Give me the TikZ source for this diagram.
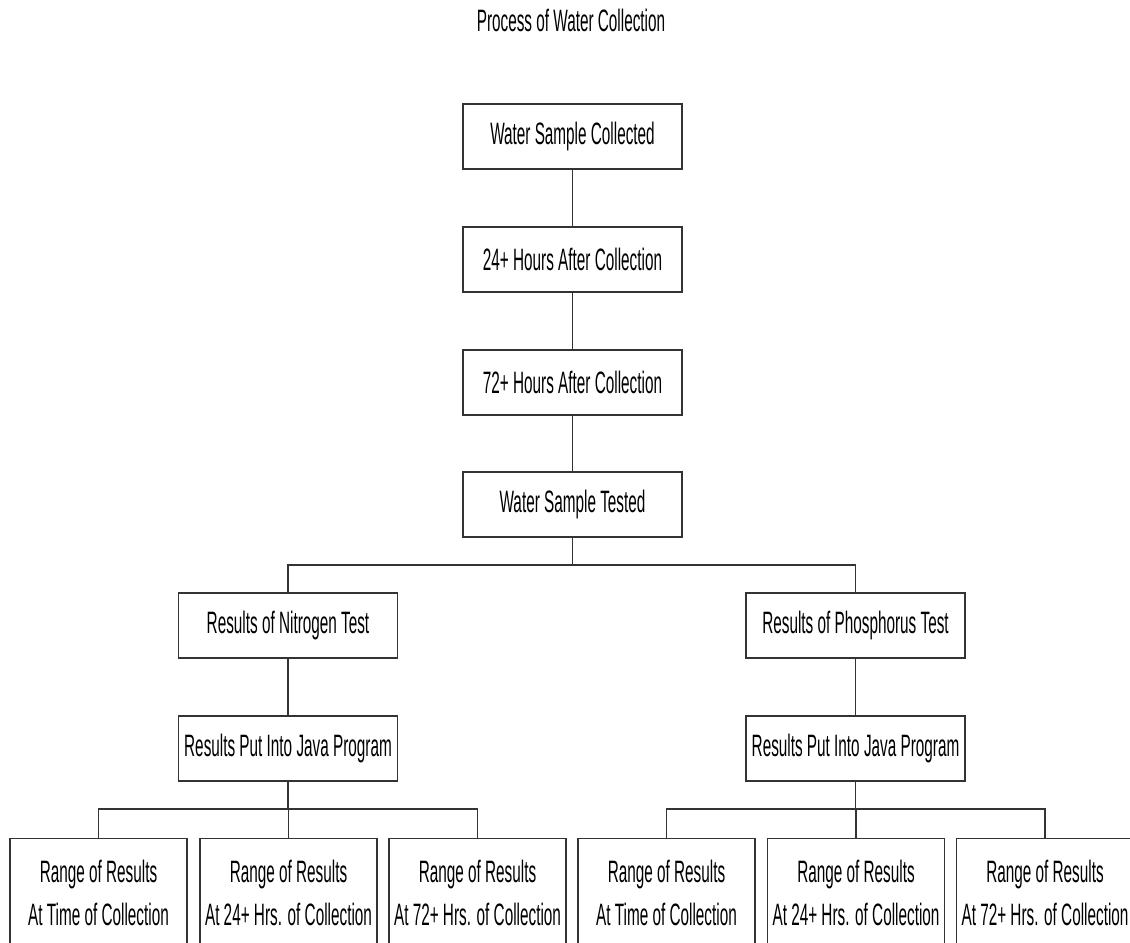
\documentclass[tikz,border=0pt]{standalone}
\usepackage{fontspec}
\setmainfont[FakeStretch=0.495]{Liberation Sans}
\usetikzlibrary{calc}
\newcommand\rangetext[1]{\begin{tabular}[t]{@{}c@{}}Range of Results\\#1\end{tabular}}

\begin{document}
\begin{tikzpicture}[
		procbox/.style={draw=black!80, line width=0.6pt, minimum width=4.38cm, minimum height=1.3cm, inner sep=0pt},
		rangebox/.style={draw=black!80, line width=0.6pt, minimum width=3.54cm, anchor=north, inner xsep=0pt, inner ysep=7.8pt, text depth=3cm},
		link/.style={draw=black!80, line width=0.6pt},
		every node/.style={font=\fontsize{17.6}{24.5}\selectfont}
	]
			%%%%% START %%%%%
			\useasboundingbox (0, 0) rectangle (22.6, -18.86);
			
			\node[anchor=base] (title) at (11.42, -0.64) {Process of Water Collection};
			
			\node[procbox] (collected) at (11.45, -2.73) {Water Sample Collected};
			\node[procbox] (after24) at (11.45, -5.19) {24+ Hours After Collection};
			\node[procbox] (after72) at (11.45, -7.65) {72+ Hours After Collection};
			\node[procbox] (tested) at (11.45, -10.09) {Water Sample Tested};
			
			\node[procbox] (nitro) at (5.76, -12.51) {Results of Nitrogen Test};
			\node[procbox] (phos) at (17.11, -12.51) {Results of Phosphorus Test};
			\node[procbox] (njava) at (5.76, -14.97) {Results Put Into Java Program};
			\node[procbox] (pjava) at (17.11, -14.97) {Results Put Into Java Program};
			
			\node[rangebox] (ntime) at (1.97, -16.76) {\rangetext{At Time of Collection}};
			\node[rangebox] (n24) at (5.77, -16.76) {\rangetext{At 24+ Hrs. of Collection}};
			\node[rangebox] (n72) at (9.55, -16.76) {\rangetext{At 72+ Hrs. of Collection}};
			\node[rangebox] (ptime) at (13.33, -16.76) {\rangetext{At Time of Collection}};
			\node[rangebox] (p24) at (17.12, -16.76) {\rangetext{At 24+ Hrs. of Collection}};
			\node[rangebox] (p72) at (20.90, -16.76) {\rangetext{At 72+ Hrs. of Collection}};
			
			\coordinate (split) at (11.45, -11.3);
			\coordinate (nsplit) at (5.76, -16.18);
			\coordinate (psplit) at (17.11, -16.18);
			
			\draw[link] (collected) -- (after24);
			\draw[link] (after24) -- (after72);
			\draw[link] (after72) -- (tested);
			
			\draw[link] (tested) -- (split);
			\draw[link] (split) -| (nitro);
			\draw[link] (split) -| (phos);
			
			\draw[link] (nitro) -- (njava);
			\draw[link] (phos) -- (pjava);
			
			\draw[link] (njava) -- (nsplit);
			\draw[link] (pjava) -- (psplit);
			\foreach \b in {ntime, n24, n72}
				\draw[link] (nsplit) -| (\b);
			\foreach \b in {ptime, p24, p72}
				\draw[link] (psplit) -| (\b);
			
			%%%%% END %%%%%
\end{tikzpicture}
\end{document}
